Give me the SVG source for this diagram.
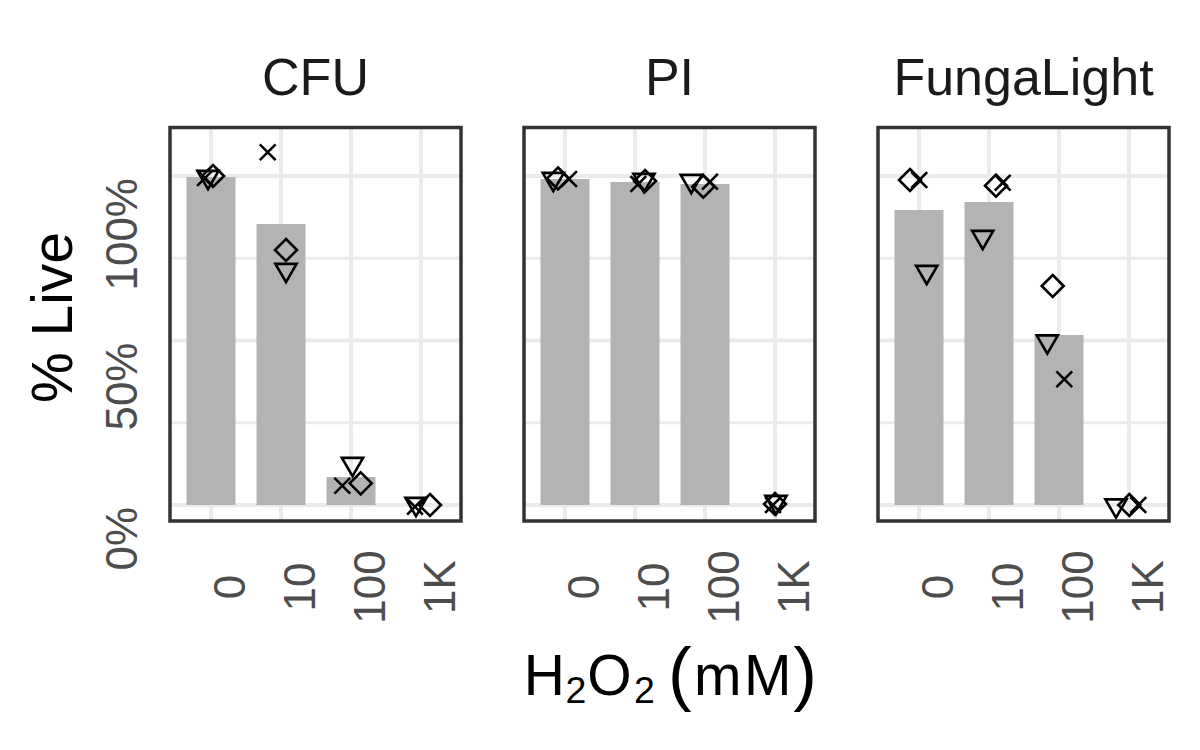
<svg xmlns="http://www.w3.org/2000/svg" xmlns:xlink="http://www.w3.org/1999/xlink" width="1200" height="750" viewBox="0 0 1200 750">
<style>
.bg{fill:#ffffff}
.gmaj{stroke:#ebebeb;stroke-width:4;fill:none}
.gmin{stroke:#ebebeb;stroke-width:3;fill:none}
.bar{fill:#b3b3b3}
.border{fill:none;stroke:#333333;stroke-width:3.5}
.pt{fill:none;stroke:#000000;stroke-width:2.6;stroke-linejoin:miter}
.strip{font-family:"Liberation Sans",Arial,sans-serif;font-size:52px;fill:#1a1a1a;text-anchor:middle}
.tick{font-family:"Liberation Sans",Arial,sans-serif;font-size:44px;fill:#4d4d4d}
.title{font-family:"Liberation Sans",Arial,sans-serif;fill:#000000}
</style>
<defs>
<path id="tri" class="pt" d="M-10.6,-6.1 L10.6,-6.1 L0,12.2 Z"/>
<path id="dia" class="pt" d="M0,-11 L11,0 L0,11 L-11,0 Z"/>
<path id="crs" class="pt" d="M-7.9,-7.9 L7.9,7.9 M-7.9,7.9 L7.9,-7.9"/>
<g id="grid">
<rect class="bg" x="0" y="127.5" width="291" height="393.5"/>
<path class="gmin" d="M0,422.75H291M0,258.25H291"/>
<path class="gmaj" d="M0,505H291M0,340.5H291M0,176H291"/>
<path class="gmaj" d="M41,127.5V521M111,127.5V521M181,127.5V521M251,127.5V521"/>
</g>
</defs>
<rect x="0" y="0" width="1200" height="750" fill="#ffffff"/>

<g id="panel-cfu" transform="translate(170,0)">
<use xlink:href="#grid"/>
<rect class="bar" x="16.5" y="177" width="49" height="328"/>
<rect class="bar" x="86.5" y="224" width="49" height="281"/>
<rect class="bar" x="156.5" y="477" width="49" height="28"/>
<use xlink:href="#crs" x="35" y="178"/>
<use xlink:href="#tri" x="38" y="177"/>
<use xlink:href="#dia" x="43" y="176"/>
<use xlink:href="#crs" x="97.7" y="152.3"/>
<use xlink:href="#dia" x="116" y="250"/>
<use xlink:href="#tri" x="116" y="270"/>
<use xlink:href="#tri" x="182.5" y="464"/>
<use xlink:href="#dia" x="190.7" y="483.3"/>
<use xlink:href="#crs" x="172.3" y="485.7"/>
<use xlink:href="#crs" x="245" y="506.7"/>
<use xlink:href="#tri" x="246" y="504"/>
<use xlink:href="#dia" x="260" y="505"/>
<rect class="border" x="0" y="127.5" width="291" height="393.5"/>
<text class="strip" x="145.5" y="94.5">CFU</text>
<text class="tick" text-anchor="middle" transform="translate(75,587) rotate(-90)">0</text>
<text class="tick" text-anchor="middle" transform="translate(145,587) rotate(-90)">10</text>
<text class="tick" text-anchor="middle" transform="translate(215,587) rotate(-90)">100</text>
<text class="tick" text-anchor="middle" transform="translate(285,587) rotate(-90)">1K</text>
</g>

<g id="panel-pi" transform="translate(524,0)">
<use xlink:href="#grid"/>
<rect class="bar" x="16.5" y="179" width="49" height="326"/>
<rect class="bar" x="86.5" y="182" width="49" height="323"/>
<rect class="bar" x="156.5" y="184" width="49" height="321"/>
<use xlink:href="#tri" x="29.3" y="179"/>
<use xlink:href="#dia" x="34" y="178.5"/>
<use xlink:href="#crs" x="45" y="179"/>
<use xlink:href="#crs" x="114.3" y="184"/>
<use xlink:href="#dia" x="121" y="181"/>
<use xlink:href="#tri" x="120" y="180"/>
<use xlink:href="#tri" x="167.3" y="181"/>
<use xlink:href="#dia" x="179.3" y="186.7"/>
<use xlink:href="#crs" x="186" y="181.7"/>
<use xlink:href="#tri" x="252" y="502"/>
<use xlink:href="#dia" x="251" y="504"/>
<use xlink:href="#crs" x="249" y="505"/>
<rect class="border" x="0" y="127.5" width="291" height="393.5"/>
<text class="strip" x="145.5" y="94.5">PI</text>
<text class="tick" text-anchor="middle" transform="translate(75,587) rotate(-90)">0</text>
<text class="tick" text-anchor="middle" transform="translate(145,587) rotate(-90)">10</text>
<text class="tick" text-anchor="middle" transform="translate(215,587) rotate(-90)">100</text>
<text class="tick" text-anchor="middle" transform="translate(285,587) rotate(-90)">1K</text>
</g>

<g id="panel-fungalight" transform="translate(878,0)">
<use xlink:href="#grid"/>
<rect class="bar" x="16.5" y="210" width="49" height="295"/>
<rect class="bar" x="86.5" y="202" width="49" height="303"/>
<rect class="bar" x="156.5" y="335" width="49" height="170"/>
<use xlink:href="#dia" x="32" y="180"/>
<use xlink:href="#crs" x="41.3" y="180"/>
<use xlink:href="#tri" x="48.7" y="272"/>
<use xlink:href="#dia" x="118" y="185.7"/>
<use xlink:href="#crs" x="124.7" y="182.7"/>
<use xlink:href="#tri" x="104.7" y="237"/>
<use xlink:href="#dia" x="174.7" y="286"/>
<use xlink:href="#tri" x="169.3" y="341.5"/>
<use xlink:href="#crs" x="186.3" y="379.3"/>
<use xlink:href="#tri" x="238" y="505.5"/>
<use xlink:href="#dia" x="251.3" y="505"/>
<use xlink:href="#crs" x="260.3" y="505"/>
<rect class="border" x="0" y="127.5" width="291" height="393.5"/>
<text class="strip" x="145.5" y="94.5">FungaLight</text>
<text class="tick" text-anchor="middle" transform="translate(75,587) rotate(-90)">0</text>
<text class="tick" text-anchor="middle" transform="translate(145,587) rotate(-90)">10</text>
<text class="tick" text-anchor="middle" transform="translate(215,587) rotate(-90)">100</text>
<text class="tick" text-anchor="middle" transform="translate(285,587) rotate(-90)">1K</text>
</g>

<g id="y-axis">
<text class="tick" text-anchor="end" transform="translate(136.7,507) rotate(-90)">0%</text>
<text class="tick" text-anchor="end" transform="translate(136.7,342.5) rotate(-90)">50%</text>
<text class="tick" text-anchor="end" transform="translate(136.7,178) rotate(-90)">100%</text>
<text class="title" font-size="57" text-anchor="middle" transform="translate(71.7,317.5) rotate(-90)">% Live</text>
</g>

<g id="x-axis-title" class="title">
<text font-size="57" x="523.8" y="695">H</text>
<text font-size="37.5" x="565.5" y="703">2</text>
<text font-size="57" x="587.3" y="695">O</text>
<text font-size="37.5" x="633.9" y="703">2</text>
<text font-size="71" x="668" y="696.5">(</text>
<text font-size="57" x="694" y="695">m</text>
<text font-size="57" x="744" y="695">M</text>
<text font-size="71" x="793.2" y="696.5">)</text>
</g>
</svg>
